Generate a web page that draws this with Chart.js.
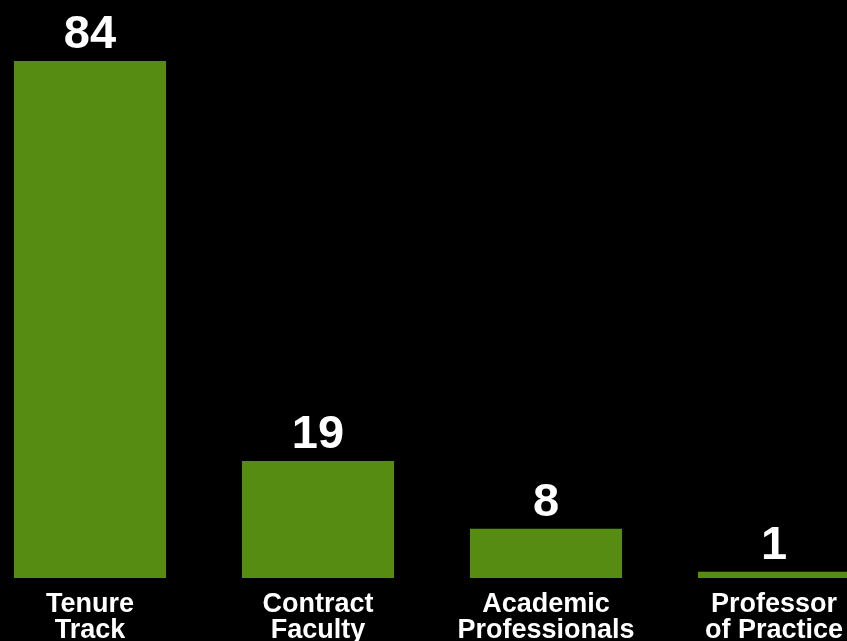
<!DOCTYPE html>
<html>
<head>
<meta charset="utf-8">
<script src="https://cdn.jsdelivr.net/npm/chart.js@4.4.1/dist/chart.umd.min.js"></script>
<style>
  html, body { margin: 0; padding: 0; background: #000; overflow: hidden; }
  body { width: 847px; height: 641px; position: relative; }
  /* the chart is cropped on the sides and at the bottom in the reference, so the box is bigger than the page */
  #wrap { position: absolute; left: -24px; top: 0; width: 912px; height: 658px; }
</style>
</head>
<body>
<div id="wrap"><canvas id="chart"></canvas></div>
<script>
// data
const categories = [['Tenure', 'Track'], ['Contract', 'Faculty'], ['Academic', 'Professionals'], ['Professor', 'of Practice']];
const counts = [84, 19, 8, 1];

const BAR_GREEN = '#578c13';
const FONT = '"Liberation Sans", Arial, Helvetica, sans-serif';

// value labels above the bars
const valueLabels = {
  id: 'valueLabels',
  afterDatasetsDraw(chart) {
    const ctx = chart.ctx;
    const meta = chart.getDatasetMeta(0);
    ctx.save();
    ctx.fillStyle = '#ffffff';
    ctx.font = 'bold 47px ' + FONT;
    ctx.textAlign = 'center';
    ctx.textBaseline = 'alphabetic';
    meta.data.forEach((bar, i) => {
      ctx.fillText(String(counts[i]), bar.x, bar.y - 13);
    });
    ctx.restore();
  }
};

new Chart(document.getElementById('chart'), {
  type: 'bar',
  data: {
    labels: categories,
    datasets: [{
      data: counts,
      backgroundColor: BAR_GREEN,
      borderWidth: 0,
      categoryPercentage: 1,
      barPercentage: 0.667
    }]
  },
  options: {
    responsive: true,
    maintainAspectRatio: false,
    animation: false,
    layout: { padding: 0 },
    plugins: {
      legend: { display: false },
      tooltip: { enabled: false }
    },
    scales: {
      x: {
        grid: { display: false, drawTicks: false },
        border: { display: false },
        ticks: {
          color: '#ffffff',
          padding: 14,
          maxRotation: 0,
          autoSkip: false,
          font: { family: FONT, size: 27, weight: 'bold', lineHeight: 0.963 }
        }
      },
      y: {
        display: false,
        min: 0,
        max: 93.9
      }
    }
  },
  plugins: [valueLabels]
});
</script>
</body>
</html>
